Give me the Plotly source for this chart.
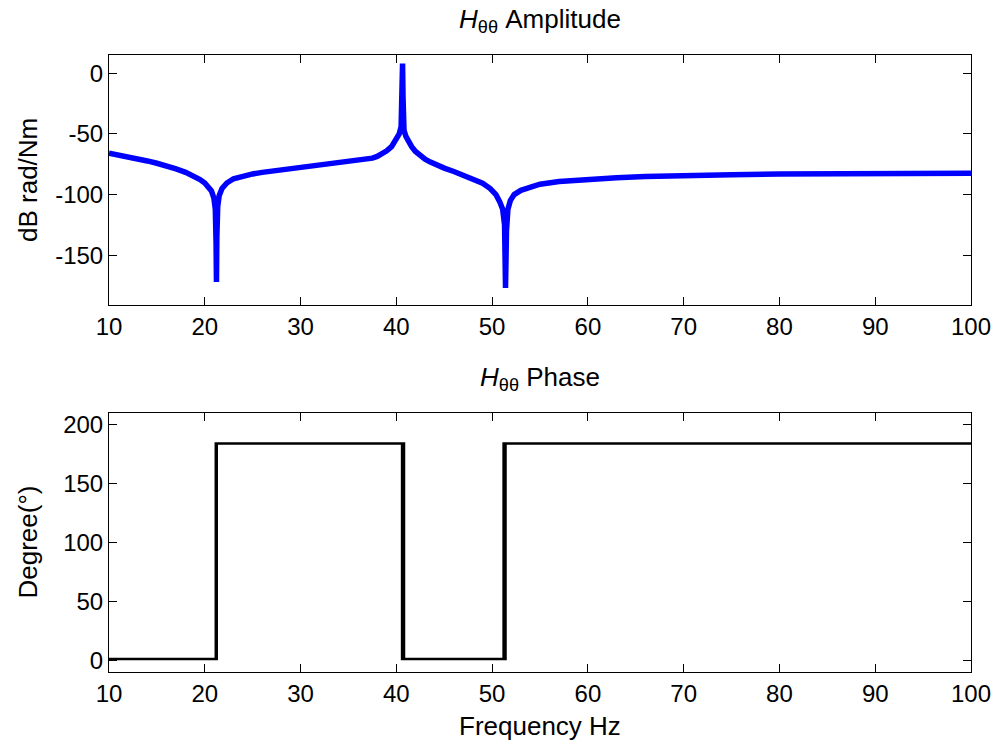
import plotly.graph_objects as go
from plotly.subplots import make_subplots

# Frequency response of the theta-theta receptance
freq_hz = [10.0, 11.0, 12.0, 13.0, 14.0, 15.0, 16.0, 17.0, 18.0, 18.8, 19.5, 20.0, 20.4,
           20.7, 20.95, 21.1, 21.18, 21.22, 21.26, 21.35, 21.5, 21.8, 22.3, 23.0, 24.0,
           25.0, 26.0, 28.0, 30.0, 32.0, 34.0, 36.0, 37.0, 37.5, 38.0, 38.5, 39.0, 39.5,
           40.0, 40.3, 40.5, 40.6, 40.65, 40.7, 40.8, 41.0, 41.3, 41.6, 42.0, 42.5, 43.0,
           43.5, 44.0, 45.0, 46.0, 47.0, 48.0, 49.0, 49.8, 50.4, 50.8, 51.1, 51.3, 51.4,
           51.5, 51.65, 51.9, 52.3, 53.0, 54.0, 55.0, 57.0, 60.0, 63.0, 66.0, 70.0, 75.0,
           80.0, 85.0, 90.0, 95.0, 100.0]
amp_db = [-66, -67.4, -68.9, -70.5, -72.3, -74.2, -76.3, -78.8, -81.7, -84.5, -87.6, -90.5, -93.5,
          -97, -103, -112, -140, -172, -135, -110, -101, -95, -90.5, -87, -84.5,
          -83, -81.7, -79.6, -77.6, -75.7, -74, -72.2, -71, -70, -68.6, -66.6, -64, -60.5,
          -55, -50, -44, -20, 8, -20, -47, -52, -56.5, -60.5, -64.5, -68, -70.8,
          -73, -75, -78.2, -81, -84, -87, -90.7, -95, -100, -106, -112, -125, -177,
          -130, -112, -105, -100, -96.5, -93.5, -91.5, -89.3, -87.5, -86.2, -85.2, -84.2, -83.6,
          -83.1, -82.8, -82.6, -82.5, -82.4]

# Phase: switching between the two levels at the resonance and antiresonances
phase_freq = [10.0, 21.15, 21.15, 21.2, 21.2, 21.25, 21.25,
              40.6, 40.6, 40.65, 40.65, 40.7, 40.7, 40.75, 40.75, 40.8, 40.8,
              51.2, 51.2, 51.25, 51.25, 51.3, 51.3, 51.35, 51.35, 51.4, 51.4, 100.0]
phase_deg = [1, 1, 184, 184, 1, 1, 184,
             184, 1, 1, 184, 184, 1, 1, 184, 184, 1,
             1, 184, 184, 1, 1, 184, 184, 1, 1, 184, 184]

x_ticks = [10, 20, 30, 40, 50, 60, 70, 80, 90, 100]
amp_ticks = [0, -50, -100, -150]
phase_ticks = [0, 50, 100, 150, 200]

FONT = "Liberation Sans, Arial, sans-serif"
TICK_FS = 24
LABEL_FS = 26

fig = make_subplots(rows=2, cols=1)
fig.add_trace(go.Scatter(x=freq_hz, y=amp_db, mode="lines",
                         line=dict(color="#0000FF", width=5.5)), row=1, col=1)
fig.add_trace(go.Scatter(x=phase_freq, y=phase_deg, mode="lines",
                         line=dict(color="#000000", width=2.5)), row=2, col=1)

axis_style = dict(showline=True, mirror="ticks", linecolor="black", linewidth=1,
                  ticks="inside", ticklen=8, tickcolor="black", showgrid=False,
                  zeroline=False, tickfont=dict(family=FONT, size=TICK_FS, color="black"))

fig.update_xaxes(range=[10, 100], tickvals=x_ticks,
                 ticktext=[str(v) for v in x_ticks], **axis_style)
fig.update_yaxes(**axis_style)
fig.update_yaxes(range=[-191, 15], tickvals=amp_ticks, ticktext=[str(v) for v in amp_ticks],
                 domain=[0.5948, 1.0], row=1, col=1)
fig.update_yaxes(range=[-10, 210], tickvals=phase_ticks, ticktext=[str(v) for v in phase_ticks],
                 domain=[0.0, 0.4198], row=2, col=1)

title_font = dict(family=FONT, size=LABEL_FS, color="black")
fig.update_layout(
    width=1003, height=746,
    margin=dict(l=109, r=27, t=55, b=74),
    paper_bgcolor="white", plot_bgcolor="white",
    showlegend=False,
    annotations=[
        dict(text="<i>H</i><sub>θθ</sub> Amplitude", x=0.5, y=1.0, xref="paper", yref="paper",
             xanchor="center", yanchor="bottom", yshift=16, showarrow=False, font=title_font),
        dict(text="<i>H</i><sub>θθ</sub> Phase", x=0.5, y=0.4198, xref="paper", yref="paper",
             xanchor="center", yanchor="bottom", yshift=16, showarrow=False, font=title_font),
        dict(text="Frequency Hz", x=0.5, y=0.0, xref="paper", yref="paper",
             xanchor="center", yanchor="top", yshift=-37, showarrow=False, font=title_font),
        dict(text="dB rad/Nm", x=0.0, y=0.7974, xref="paper", yref="paper", textangle=-90,
             xanchor="right", yanchor="middle", xshift=-64, showarrow=False, font=title_font),
        dict(text="Degree(°)", x=0.0, y=0.2099, xref="paper", yref="paper", textangle=-90,
             xanchor="right", yanchor="middle", xshift=-64, showarrow=False, font=title_font),
    ],
)

fig.write_html("out.html")
